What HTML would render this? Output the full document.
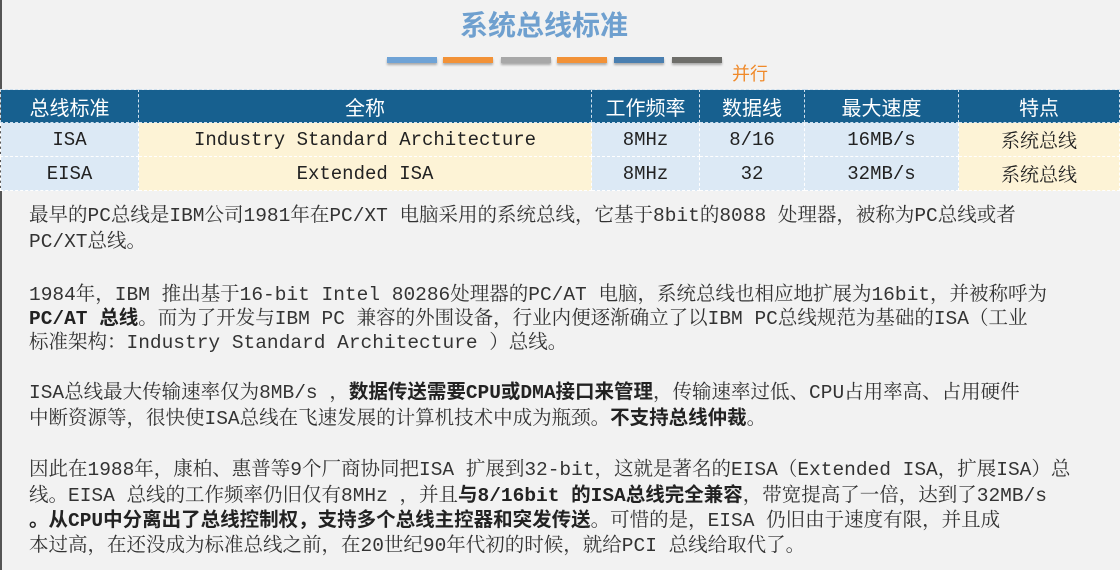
<!DOCTYPE html>
<html><head><meta charset="utf-8"><style>
body{margin:0;width:1120px;height:570px;background:#f2f2f2;position:relative;overflow:hidden;font-family:"Liberation Mono","Noto Serif CJK SC",monospace;}
.l{position:absolute;left:29px;font-size:19.5px;color:#333;white-space:nowrap;line-height:24px;}
b{font-family:"Liberation Mono","Noto Sans CJK SC",monospace;font-weight:bold;color:#222}
.bar{position:absolute;top:57px;height:6px;width:50px;box-shadow:0 2px 2px #aaa}
table{position:absolute;left:0;top:89px;width:1120px;border-collapse:collapse;}
td{text-align:center;padding:0;font-size:19px;color:#222;border:1px dashed #fff}
th{background:#17608f;color:#fff;font-family:"Liberation Sans","Noto Sans CJK SC",sans-serif;font-weight:normal;font-size:20px;height:32px;border:1px dashed #cfe0ee;padding:0}
tr.r td{height:33px}
.a{background:#dce9f5}.y{background:#fdf3d6}
</style></head><body>
<div style="position:absolute;left:0;top:0;width:2px;height:570px;background:#555"></div>
<div style="position:absolute;left:0;top:4px;width:1100px;text-align:center;font-family:'Noto Sans CJK SC',sans-serif;font-size:28px;color:#6fa0cf;font-weight:bold;padding-left:0;margin-left:0"><span style="position:absolute;left:460px;">系统总线标准</span></div>
<div class="bar" style="left:387px;background:#6fa3d6"></div>
<div class="bar" style="left:443px;background:#f29238"></div>
<div class="bar" style="left:501px;background:#a8a8a8"></div>
<div class="bar" style="left:557px;background:#f29238"></div>
<div class="bar" style="left:614px;background:#4a7fb0"></div>
<div class="bar" style="left:672px;background:#6e6e6a"></div>
<div style="position:absolute;left:732px;top:60px;font-family:'Noto Sans CJK SC',sans-serif;font-size:18px;color:#f08a2a">并行</div>
<table>
<tr><th style="width:137px">总线标准</th><th style="width:452px">全称</th><th style="width:107px">工作频率</th><th style="width:104px">数据线</th><th style="width:153px">最大速度</th><th>特点</th></tr>
<tr class="r"><td class="a">ISA</td><td class="y">Industry Standard Architecture</td><td class="a">8MHz</td><td class="a">8/16</td><td class="a">16MB/s</td><td class="y">系统总线</td></tr>
<tr class="r"><td class="a">EISA</td><td class="y">Extended ISA</td><td class="a">8MHz</td><td class="a">32</td><td class="a">32MB/s</td><td class="y">系统总线</td></tr>
</table>
<div class="l" style="top:204px">最早的PC总线是IBM公司1981年在PC/XT 电脑采用的系统总线，它基于8bit的8088 处理器，被称为PC总线或者</div>
<div class="l" style="top:230px">PC/XT总线。</div>
<div class="l" style="top:283px">1984年，IBM 推出基于16-bit Intel 80286处理器的PC/AT 电脑，系统总线也相应地扩展为16bit，并被称呼为</div>
<div class="l" style="top:307px"><b>PC/AT 总线</b>。而为了开发与IBM PC 兼容的外围设备，行业内便逐渐确立了以IBM PC总线规范为基础的ISA（工业</div>
<div class="l" style="top:331px">标准架构：Industry Standard Architecture ）总线。</div>
<div class="l" style="top:381px">ISA总线最大传输速率仅为8MB/s ，<b>数据传送需要CPU或DMA接口来管理</b>，传输速率过低、CPU占用率高、占用硬件</div>
<div class="l" style="top:407px">中断资源等，很快使ISA总线在飞速发展的计算机技术中成为瓶颈。<b>不支持总线仲裁</b>。</div>
<div class="l" style="top:458px">因此在1988年，康柏、惠普等9个厂商协同把ISA 扩展到32-bit，这就是著名的EISA（Extended ISA，扩展ISA）总</div>
<div class="l" style="top:484px">线。EISA 总线的工作频率仍旧仅有8MHz ，并且<b>与8/16bit 的ISA总线完全兼容</b>，带宽提高了一倍，达到了32MB/s</div>
<div class="l" style="top:509px"><b>。从CPU中分离出了总线控制权，支持多个总线主控器和突发传送</b>。可惜的是，EISA 仍旧由于速度有限，并且成</div>
<div class="l" style="top:534px">本过高，在还没成为标准总线之前，在20世纪90年代初的时候，就给PCI 总线给取代了。</div>
</body></html>
